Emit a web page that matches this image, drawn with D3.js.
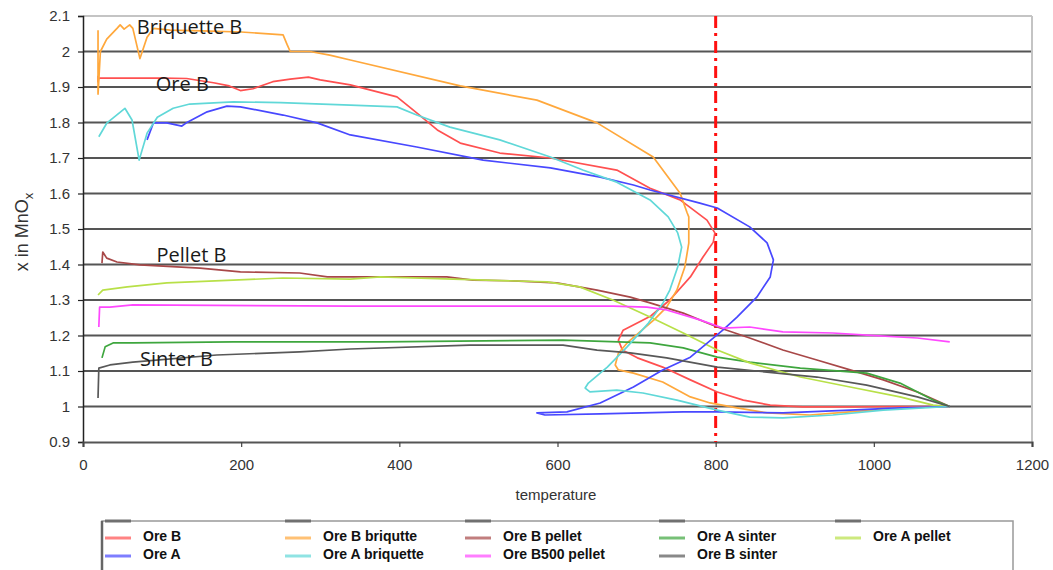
<!DOCTYPE html>
<html><head><meta charset="utf-8">
<script src="https://cdn.jsdelivr.net/npm/d3@7"></script>
<style>
html,body{margin:0;padding:0;background:#fff;}
svg{display:block;}
</style></head>
<body>
<svg id="chart" width="1053" height="570"></svg>
<script>
// ---- data ----
const xTicks = [0, 200, 400, 600, 800, 1000, 1200];
const yTicks = [0.9, 1.0, 1.1, 1.2, 1.3, 1.4, 1.5, 1.6, 1.7, 1.8, 1.9, 2.0, 2.1];
const yTickLabels = ["0.9","1","1.1","1.2","1.3","1.4","1.5","1.6","1.7","1.8","1.9","2","2.1"];
const seriesNames = ["Ore B","Ore B briqutte","Ore B pellet","Ore A sinter","Ore A pellet",
                     "Ore A","Ore A briquette","Ore B500 pellet","Ore B sinter"];
const seriesColors = ["#ff5050","#ffa83c","#a84848","#3ea63e","#b8e048",
                      "#4848ff","#60d8d8","#ff48ff","#585858"];
const refTemperature = 800;
const annotations = ["Briquette  B","Ore  B","Pellet B","Sinter B"];
const annotationAt = [[68,2.05],[92,1.888],[93,1.408],[72,1.113]];

const oreB = [[19,1.932],[19,1.915],[20,1.925],[60,1.925],[100,1.925],[131,1.924],[165,1.912],[185,1.903],[199,1.89],[215,1.895],[240,1.915],[262,1.922],[285,1.928],[300,1.92],[338,1.906],[397,1.872],[422,1.827],[448,1.779],[477,1.742],[527,1.714],[591,1.70],[675,1.666],[717,1.615],[755,1.582],[789,1.525],[799,1.489],[797,1.463],[784,1.421],[768,1.365],[742,1.30],[718,1.255],[683,1.215],[677,1.187],[682,1.159],[701,1.137],[733,1.111],[768,1.075],[802,1.041],[835,1.018],[869,1.004],[910,0.999],[970,0.999],[1033,1.0],[1096,1.0]];
const oreBBriquette = [[19,2.06],[19,1.88],[22,2.0],[30,2.035],[43,2.065],[47,2.075],[52,2.063],[59,2.075],[63,2.065],[72,1.98],[81,2.04],[89,2.065],[110,2.06],[150,2.058],[200,2.055],[253,2.047],[258,2.02],[262,2.0],[287,2.0],[312,1.99],[338,1.976],[477,1.903],[574,1.863],[650,1.799],[721,1.703],[755,1.601],[764,1.545],[766,1.534],[766,1.46],[761,1.393],[751,1.328],[738,1.28],[722,1.244],[688,1.179],[677,1.15],[673,1.117],[677,1.103],[696,1.094],[733,1.069],[768,1.027],[793,1.01],[827,0.996],[865,0.982],[919,0.976],[970,0.985],[1033,0.996],[1096,1.0]];
const oreBPellet = [[24,1.404],[25,1.435],[30,1.418],[43,1.407],[72,1.399],[148,1.39],[199,1.379],[274,1.376],[309,1.365],[460,1.365],[493,1.356],[544,1.354],[599,1.348],[650,1.328],[692,1.308],[717,1.292],[759,1.263],[802,1.224],[843,1.193],[885,1.159],[928,1.131],[970,1.103],[1012,1.075],[1055,1.041],[1096,1.0]];
const oreASinter = [[24,1.137],[28,1.168],[38,1.179],[63,1.179],[190,1.182],[376,1.182],[607,1.187],[717,1.179],[759,1.165],[802,1.139],[843,1.125],[907,1.108],[991,1.094],[1033,1.066],[1075,1.018],[1096,1.0]];
const oreAPellet = [[19,1.314],[25,1.328],[56,1.337],[106,1.348],[190,1.356],[253,1.362],[338,1.359],[376,1.365],[587,1.351],[628,1.337],[670,1.30],[717,1.252],[759,1.207],[802,1.159],[843,1.123],[907,1.083],[970,1.055],[1033,1.027],[1075,1.004],[1096,1.0]];
const oreA = [[81,1.751],[89,1.799],[106,1.799],[125,1.79],[132,1.801],[157,1.83],[182,1.846],[199,1.844],[253,1.821],[296,1.799],[338,1.765],[422,1.731],[506,1.694],[591,1.672],[654,1.646],[696,1.624],[717,1.61],[780,1.573],[802,1.559],[843,1.506],[865,1.461],[873,1.413],[869,1.365],[852,1.308],[827,1.252],[809,1.215],[768,1.139],[733,1.103],[696,1.055],[654,1.01],[612,0.985],[574,0.982],[584,0.976],[654,0.979],[759,0.985],[802,0.985],[885,0.982],[970,0.99],[1033,0.996],[1096,1.0]];
const oreABriquette = [[20,1.76],[30,1.798],[53,1.84],[62,1.807],[71,1.694],[81,1.77],[94,1.815],[114,1.84],[135,1.852],[190,1.858],[250,1.856],[338,1.849],[397,1.844],[422,1.821],[464,1.787],[527,1.751],[591,1.703],[632,1.666],[675,1.632],[717,1.582],[740,1.534],[752,1.489],[757,1.449],[752,1.393],[742,1.328],[733,1.29],[715,1.235],[688,1.168],[663,1.111],[639,1.066],[635,1.052],[641,1.041],[675,1.046],[708,1.038],[751,1.018],[802,0.99],[843,0.97],[885,0.968],[948,0.976],[1012,0.99],[1096,1.0]];
const oreB500Pellet = [[20,1.224],[21,1.28],[34,1.28],[63,1.286],[338,1.283],[670,1.283],[713,1.28],[738,1.272],[780,1.244],[809,1.221],[843,1.224],[885,1.21],[948,1.207],[991,1.201],[1055,1.193],[1096,1.182]];
const oreBSinter = [[19,1.024],[20,1.108],[34,1.117],[63,1.125],[169,1.145],[274,1.154],[338,1.162],[489,1.173],[607,1.173],[650,1.159],[692,1.151],[738,1.137],[802,1.111],[865,1.097],[928,1.083],[991,1.06],[1055,1.027],[1096,1.0]];

const seriesData = [oreB, oreBBriquette, oreBPellet, oreASinter, oreAPellet,
                    oreA, oreABriquette, oreB500Pellet, oreBSinter];

// ---- layout ----
const svg = d3.select("#chart");
const L = 83, R = 1032, T = 16, B = 442;
const x = d3.scaleLinear().domain([0,1200]).range([L,R]);
const y = d3.scaleLinear().domain([0.9,2.1]).range([B,T]);
const tickFont = "'Liberation Sans Narrow','Liberation Sans',Arial,sans-serif";

// grid
svg.append("g").selectAll("line").data(yTicks.filter(v => v > 0.95)).join("line")
  .attr("x1", L).attr("x2", R)
  .attr("y1", d => y(d)).attr("y2", d => y(d))
  .attr("stroke", d => d > 2.05 ? "#c4c4c4" : "#555")
  .attr("stroke-width", d => d > 2.05 ? 2 : 2.2);
// right border
svg.append("line").attr("x1", R).attr("x2", R).attr("y1", T).attr("y2", B)
  .attr("stroke", "#c4c4c4").attr("stroke-width", 2);

// axes
const yAxis = d3.axisLeft(y).tickValues(yTicks).tickSize(5)
  .tickFormat((d,i) => yTickLabels[i]);
const gy = svg.append("g").attr("transform", `translate(${L},0)`).call(yAxis);
gy.select(".domain").attr("stroke", "#222").attr("stroke-width", 1.5);
gy.selectAll(".tick line").attr("stroke", "#222").attr("stroke-width", 1.2);
gy.selectAll("text").attr("font-family", tickFont).attr("font-size", 15).attr("fill", "#333").attr("x", -13);

const xAxis = d3.axisBottom(x).tickValues(xTicks).tickSize(5).tickFormat(d3.format("d"));
const gx = svg.append("g").attr("transform", `translate(0,${B})`).call(xAxis);
gx.select(".domain").attr("stroke", "#555").attr("stroke-width", 2.2);
gx.selectAll(".tick line").attr("stroke", "#444").attr("stroke-width", 1.2);
gx.selectAll("text").attr("font-family", tickFont).attr("font-size", 15).attr("fill", "#333").attr("y", 17);

// axis titles
svg.append("text").attr("x", 556).attr("y", 500).attr("text-anchor", "middle")
  .attr("font-family", tickFont).attr("font-size", 15).attr("fill", "#333").text("temperature");
const yt = svg.append("text").attr("transform", "translate(28,232) rotate(-90)")
  .attr("text-anchor", "middle").attr("font-family", "'Liberation Sans',Arial,sans-serif")
  .attr("font-size", 18).attr("fill", "#333");
yt.append("tspan").text("x in MnO");
yt.append("tspan").attr("font-size", 13).attr("dy", 5).text("x");

// reference line
svg.append("line").attr("x1", x(refTemperature)).attr("x2", x(refTemperature))
  .attr("y1", y(2.1)).attr("y2", y(0.9))
  .attr("stroke", "#ff1010").attr("stroke-width", 3)
  .attr("stroke-dasharray", "12,5,3,5");

// series
const line = d3.line().x(d => x(d[0])).y(d => y(d[1]));
svg.append("g").selectAll("path").data(seriesData).join("path")
  .attr("d", line).attr("fill", "none")
  .attr("stroke", (d,i) => seriesColors[i]).attr("stroke-width", 1.7)
  .attr("stroke-linejoin", "round");

// annotations
svg.append("g").selectAll("text").data(annotations).join("text")
  .attr("x", (d,i) => x(annotationAt[i][0])).attr("y", (d,i) => y(annotationAt[i][1]))
  .attr("font-family", "'Open Sans',sans-serif").attr("font-size", 20).attr("fill", "#1a1a1a")
  .text(d => d);

// legend
const lg = svg.append("g");
lg.append("rect").attr("x", 102).attr("y", 521).attr("width", 911).attr("height", 60)
  .attr("fill", "#fff").attr("stroke", "#999").attr("stroke-width", 1.5);
lg.append("line").attr("x1", 102).attr("x2", 102).attr("y1", 521).attr("y2", 570)
  .attr("stroke", "#666").attr("stroke-width", 2.5);
const colX = [143, 323, 503, 697, 873];
colX.forEach(cx => {
  lg.append("line").attr("x1", cx - 38).attr("x2", cx - 12).attr("y1", 521).attr("y2", 521)
    .attr("stroke", "#707070").attr("stroke-width", 3);
});
seriesNames.forEach((name, i) => {
  const col = i % 5, row = Math.floor(i / 5);
  const cx = colX[col], cy = 536 + row * 18;
  lg.append("line").attr("x1", cx - 38).attr("x2", cx - 12).attr("y1", cy + 2).attr("y2", cy + 2)
    .attr("stroke", seriesColors[i]).attr("stroke-width", 3).attr("opacity", 0.7);
  lg.append("text").attr("x", cx).attr("y", cy + 5)
    .attr("font-family", tickFont).attr("font-size", 14).attr("font-weight", "bold")
    .attr("fill", "#111").text(name);
});
</script>
</body></html>
